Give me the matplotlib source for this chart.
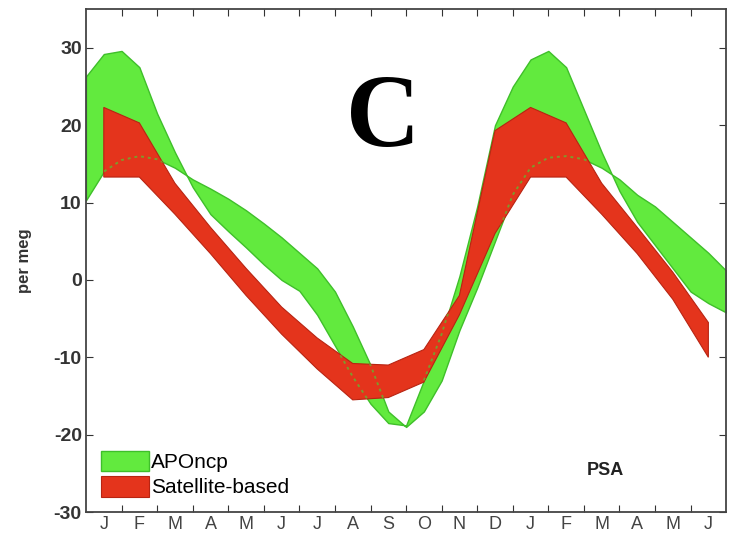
import numpy as np
import matplotlib.pyplot as plt

plt.rcParams['font.family'] = ['Liberation Sans', 'DejaVu Sans']
plt.rcParams['axes.unicode_minus'] = False

# month labels (two years, Jan -> Jun of the next year)
months = ['J', 'F', 'M', 'A', 'M', 'J', 'J', 'A', 'S', 'O', 'N', 'D',
          'J', 'F', 'M', 'A', 'M', 'J']

# APOncp envelope, two edge lines, every half month from 0 to 18
apo_x = np.arange(0, 18.01, 0.5)
apo_a = [26.3, 29.2, 29.6, 27.5, 21.5, 16.5, 12.0, 8.5, 6.3, 4.2, 2.0, 0.0,
         -1.4, -4.5, -8.5, -12.5, -16.0, -18.5, -18.8, -13.0, -7.0, 0.5,
         9.5, 20.0, 25.0, 28.5, 29.6, 27.5, 22.0, 16.5, 11.5, 7.5, 4.5, 1.5,
         -1.5, -3.0, -4.2]
apo_b = [10.3, 14.0, 15.5, 16.0, 15.6, 14.5, 13.0, 11.8, 10.5, 9.0, 7.3, 5.5,
         3.5, 1.5, -1.5, -6.0, -11.0, -17.0, -19.0, -17.0, -13.0, -6.5,
         -1.0, 5.0, 11.0, 14.5, 15.8, 16.0, 15.6, 14.5, 13.0, 11.0, 9.5, 7.5,
         5.5, 3.5, 1.2]

# Satellite-based envelope, monthly (mid-month)
sat_x = np.arange(0.5, 18, 1.0)
sat_up = [22.3, 20.3, 12.5, 6.8, 1.5, -3.5, -7.5, -10.8, -11.0, -9.0, -2.0,
          19.3, 22.3, 20.3, 12.5, 6.8, 1.0, -5.5]
sat_lo = [13.3, 13.3, 8.5, 3.4, -2.0, -7.0, -11.5, -15.5, -15.2, -13.2, -4.5,
          6.0, 13.3, 13.3, 8.5, 3.4, -2.5, -10.0]

green = '#62ea3e'
green_edge = '#3fbf2a'
red = '#e4341c'
red_edge = '#b82412'

fig = plt.figure(figsize=(7.32, 5.39), dpi=100)
ax = fig.add_axes([0.1175, 0.05, 0.8745, 0.933])

ax.fill_between(apo_x, apo_a, apo_b, facecolor=green, edgecolor=green_edge,
                linewidth=1.0, label='APOncp', zorder=2)
red_poly, = ax.fill(np.concatenate([sat_x, sat_x[::-1]]),
                    np.concatenate([sat_up, sat_lo[::-1]]),
                    facecolor=red, edgecolor=red_edge, linewidth=0.8,
                    label='Satellite-based', zorder=3)

# green edges show through the red band as dotted lines
for edge in (apo_a, apo_b):
    ln, = ax.plot(apo_x, edge, ls=(0, (1.5, 2.0)), lw=1.4, color='#7f9a2a',
                  zorder=4)
    ln.set_clip_path(red_poly)

ax.set_xlim(0, 18)
ax.set_ylim(-30, 35)
ax.set_yticks(np.arange(-30, 31, 10))
ax.set_xticks(np.arange(1, 18))
ax.set_xticklabels([])
ax.set_xticks(sat_x, minor=True)
ax.set_xticklabels(months, minor=True, fontsize=13, color='#444444')
ax.tick_params(axis='x', which='minor', length=0, pad=3)
ax.tick_params(axis='both', which='major', direction='in', length=5,
               top=True, right=True, color='#333333')
ax.tick_params(axis='y', labelsize=14, colors='#333333', pad=3)
for lab in ax.get_yticklabels():
    lab.set_fontweight('bold')
for sp in ax.spines.values():
    sp.set_color('#444444')
    sp.set_linewidth(1.3)

ax.set_ylabel('per meg', fontsize=12, fontweight='bold', color='#333333')
ax.yaxis.set_label_coords(-0.085, 0.5)

ax.text(8.35, 17.3, 'C', fontsize=74, family='Liberation Serif',
        fontweight='bold', ha='center', va='baseline')
ax.text(14.6, -24.6, 'PSA', fontsize=13, fontweight='bold', ha='center',
        va='center', color='#222222')

ax.legend(loc='lower left', frameon=False, fontsize=15, handlelength=2.3,
          handleheight=1.15, handletextpad=0.12, labelspacing=0.2,
          borderaxespad=0.3)

fig.savefig('out.png', dpi=100)
